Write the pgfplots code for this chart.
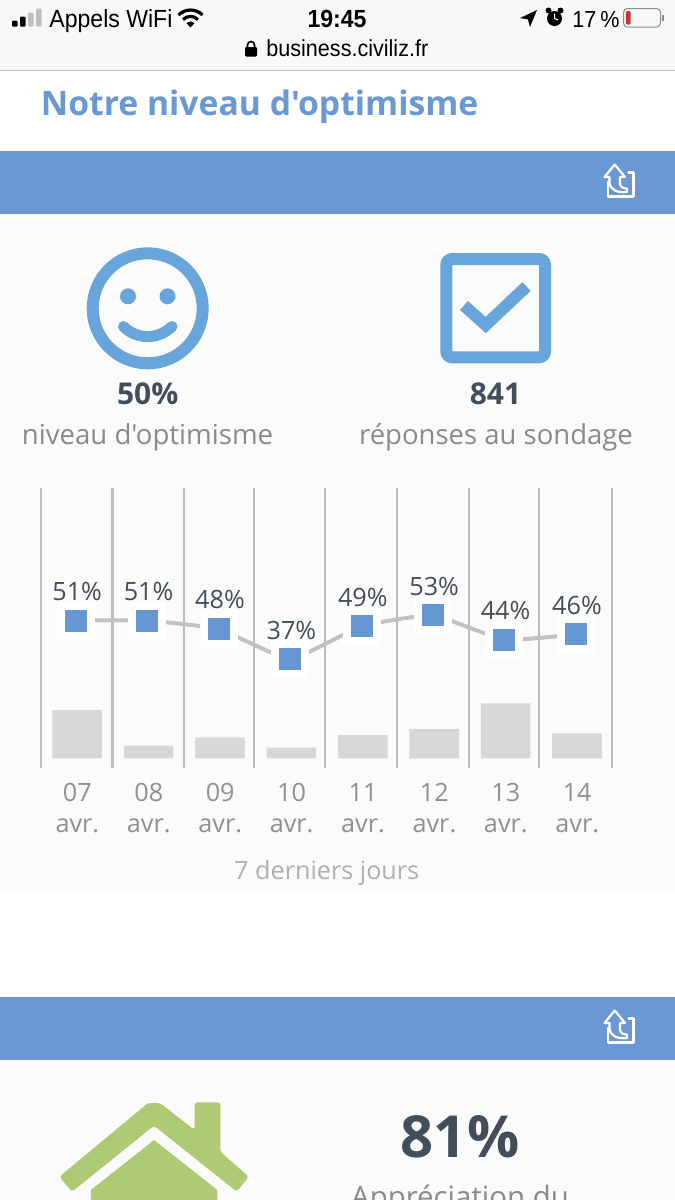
\documentclass[border=0pt]{standalone}
\usepackage{fontspec}
\setmainfont{Open Sans}
\newfontfamily\osans{Open Sans}
\newfontfamily\ios[FakeStretch=0.93]{Liberation Sans}
\usepackage{pgfplots}
\usepackage{pgfplotstable}
\pgfplotsset{compat=1.18}
\definecolor{band}{HTML}{6A98D2}
\definecolor{markblue}{HTML}{6697D4}
\definecolor{icon}{HTML}{68A5DB}
\definecolor{ink}{HTML}{434E5C}
\definecolor{sub}{HTML}{8A8A8A}
\definecolor{tick}{HTML}{8E9094}
\definecolor{foot}{HTML}{AEB0B3}
\definecolor{page}{HTML}{FBFBFB}
\definecolor{linegrey}{HTML}{C2C2C2}
\definecolor{gridgrey}{HTML}{BDBDBD}
\definecolor{bargrey}{HTML}{D8D8D8}
\definecolor{house}{HTML}{AFCA74}
\definecolor{statusbg}{HTML}{F8F8F8}
\pgfplotstableread{
i optimisme
0 51
1 51
2 48
3 37
4 49
5 53
6 44
7 46
}\optimisme
% bar heights are unlabelled in the reference: read in picture units
\pgfplotstableread{
i reponses
0 48.3
1 12.6
2 21.0
3 10.6
4 23.3
5 29.3
6 55.0
7 25.0
}\reponses
\newcommand{\shareicon}[1]{%
  \begin{scope}[yshift=#1,draw=white,line width=1.1pt,line join=round,line cap=round]
    \draw (608,182) -- (608,196.5) -- (633.5,196.5) -- (633.5,172.5) -- (628.5,172.5);
    \draw (609.5,177) -- (604.5,177) -- (614.7,164.5) -- (625,177) -- (620,177) -- (620,183)
          .. controls (620,187) and (623,188.5) .. (627,188.5) -- (627,192)
          .. controls (617,193) and (610,190) .. (609.5,182) -- cycle;
  \end{scope}}
\begin{document}
\begin{tikzpicture}
\path[use as bounding box,clip] (0pt,0pt) rectangle (337.5pt,-600pt);
\begin{scope}[x=0.5pt,y=-0.5pt]
  % page
  \fill[white] (0,0) rectangle (675,1200);
  \fill[statusbg] (0,0) rectangle (675,70);
  \fill[linegrey] (0,69.5) rectangle (675,71);
  \fill[page] (0,214) rectangle (675,890);
  \fill[page] (0,1060) rectangle (675,1200);
  \fill[band] (0,151) rectangle (675,214);
  \fill[band] (0,997) rectangle (675,1060);
  \shareicon{0pt}
  \shareicon{-423pt}
  % status bar
  \fill[black,rounded corners=0.5pt] (12,20.5) rectangle (17.5,26.5);
  \fill[black,rounded corners=0.5pt] (20,16.5) rectangle (25.5,26.5);
  \fill[black!25,rounded corners=0.5pt] (28,12.5) rectangle (33.5,26.5);
  \fill[black!25,rounded corners=0.5pt] (36,8.5) rectangle (41.5,26.5);
  \node[anchor=base west,inner sep=0pt,font=\ios\fontsize{12.4pt}{14pt}\selectfont] at (49,27) {Appels WiFi};
  \begin{scope}[line width=1.6pt,black]
    \fill (190.5,27.5) -- (186.5,23) arc[start angle=228,end angle=312,radius=6] -- cycle;
    \draw (183,19.5) arc[start angle=225,end angle=315,radius=10.6];
    \draw (178.5,15) arc[start angle=225,end angle=315,radius=17];
  \end{scope}
  \node[anchor=base,inner sep=0pt,font=\ios\bfseries\fontsize{12.4pt}{14pt}\selectfont] at (337,27) {19:45};
  \fill[black] (520,18) -- (537,10) -- (530,27) -- (528,19.5) -- cycle;
  \fill[black] (554.5,18.5) circle[radius=7.5];
  \fill[black] (548.5,10.5) circle[radius=3];
  \fill[black] (560.5,10.5) circle[radius=3];
  \draw[white,line width=0.5pt] (554.5,13.5) -- (554.5,18.5) -- (558,20);
  \node[anchor=base west,inner sep=0pt,font=\ios\fontsize{11.6pt}{14pt}\selectfont] at (572,27) {17\,\%};
  \draw[black!45,line width=0.5pt,rounded corners=2pt] (623.5,8.5) rectangle (660.5,27);
  \fill[red!75!black!80!white,rounded corners=0.6pt] (625.8,11) rectangle (630.5,24.5);
  \fill[black!45] (662,15) rectangle (663.5,21);
  \fill[black,rounded corners=0.6pt] (245,47) rectangle (257,56.5);
  \draw[black,line width=0.8pt] (247.5,47) -- (247.5,45) arc[start angle=180,end angle=360,radius=3.5] -- (254.5,47);
  \node[anchor=base west,inner sep=0pt,font=\ios\fontsize{11.6pt}{14pt}\selectfont] at (266,56) {business.civiliz.fr};
  % title
  \node[anchor=base west,inner sep=0pt,text=band,font=\osans\bfseries\fontsize{16.85pt}{20pt}\selectfont] at (40.5,115) {Notre niveau d'optimisme};
  % smiley
  \draw[icon,line width=6pt] (147.7,308.3) circle[radius=55];
  \fill[icon] (128,296.3) circle[radius=8];
  \fill[icon] (167.5,296.3) circle[radius=8];
  \draw[icon,line width=5.5pt,line cap=round] (123.5,326.5) .. controls (137,340) and (158,340) .. (172,326.5);
  % check box
  \draw[icon,line width=6pt,rounded corners=3pt] (446.3,259) rectangle (545,357.3);
  \draw[icon,line width=6pt] (464,305.5) -- (485.7,325) -- (526.5,286.5);
  % key figures
  \node[anchor=base,inner sep=0pt,text=ink,font=\bfseries\fontsize{15pt}{17pt}\selectfont] at (147.7,404.5) {50\%};
  \node[anchor=base,inner sep=0pt,text=ink,font=\bfseries\fontsize{15pt}{17pt}\selectfont] at (495.5,404.5) {841};
  \node[anchor=base,inner sep=0pt,text=sub,font=\osans\fontsize{13.8pt}{16pt}\selectfont] at (147.5,444) {niveau d'optimisme};
  \node[anchor=base,inner sep=0pt,text=sub,font=\osans\fontsize{13.75pt}{16pt}\selectfont] at (496,444) {réponses au sondage};
  % house
  \fill[house,rounded corners=1.5pt] (59.4,1176.7) -- (148,1103) -- (160,1103) -- (194.6,1130) -- (194.6,1102.3) -- (220.4,1102.3) -- (220.4,1151.7) -- (248.8,1176.7) -- (236.8,1191.7) -- (154,1125.7) -- (72,1191.7) -- cycle;
  \fill[house] (90.8,1190) -- (154,1140) -- (217.4,1190) -- (217.4,1210) -- (90.8,1210) -- cycle;
  \node[anchor=base,inner sep=0pt,text=ink,font=\bfseries\fontsize{29pt}{32pt}\selectfont] at (460,1157) {81\%};
  \node[anchor=base,inner sep=0pt,text=sub,font=\fontsize{14.7pt}{18pt}\selectfont] at (460,1207) {Appréciation du};
\end{scope}
% chart: percentages and the daily grid
\begin{axis}[
  at={(20.5pt,-384pt)}, anchor=south west,
  scale only axis, width=285.75pt, height=140pt,
  xmin=-0.49, xmax=7.514, ymin=-2.23, ymax=98.85,
  axis line style={draw=none}, tick style={draw=none},
  xtick={0,...,7},
  xticklabels={{07\\avr.},{08\\avr.},{09\\avr.},{10\\avr.},{11\\avr.},{12\\avr.},{13\\avr.},{14\\avr.}},
  xticklabel style={align=center,text=tick,font=\fontsize{12.6pt}{15.5pt}\selectfont,xshift=0.7pt,yshift=-4pt},
  minor xtick={-0.49,0.51,1.51,2.49,3.49,4.5,5.5,6.48,7.51},
  xminorgrids, minor grid style={color=gridgrey,line width=1.1pt},
  ytick=\empty,
  xlabel={7 derniers jours},
  xlabel style={at={(axis description cs:0.5,0)},anchor=center,yshift=-52.5pt,text=foot,font=\fontsize{12.6pt}{15pt}\selectfont},
  clip=false,
]
\addplot[linegrey,line width=2pt,smooth,tension=0.2,no markers] table[x=i,y=optimisme] {\optimisme};
\addplot[only marks,mark=square*,mark size=9.25pt,mark options={fill=page!30!white,draw=page!30!white,line width=0pt}] table[x=i,y=optimisme] {\optimisme};
\addplot[only marks,mark=square*,mark size=5.25pt,mark options={fill=markblue,draw=markblue,line width=0pt},
  nodes near coords={\pgfmathprintnumber[assume math mode=true]{\pgfplotspointmeta}\%},
  every node near coord/.append style={anchor=center,yshift=14.5pt,xshift=0.6pt,text=ink,font=\fontsize{12.6pt}{14pt}\selectfont},
  point meta=y
] table[x=i,y=optimisme] {\optimisme};
\end{axis}
% chart: daily answers
\begin{axis}[
  at={(20.5pt,-384pt)}, anchor=south west,
  scale only axis, width=285.75pt, height=140pt,
  xmin=-0.49, xmax=7.514, ymin=-9.7, ymax=270.3,
  hide axis,
]
\addplot[ybar,bar width=24.8pt,bar shift=0.6pt,fill=bargrey,draw=none] table[x=i,y=reponses] {\reponses};
\end{axis}
\end{tikzpicture}
\end{document}
